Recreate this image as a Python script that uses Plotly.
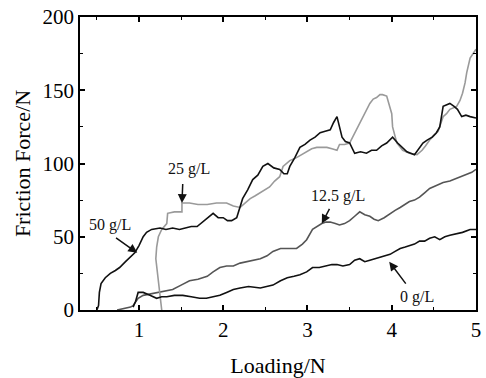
import plotly.graph_objects as go

# 50 g/L (black)
x50 = [0.50, 0.52, 0.53, 0.55, 0.60, 0.66, 0.72, 0.77, 0.84, 0.90, 0.95, 1.00, 1.05, 1.09, 1.15, 1.25, 1.32, 1.40, 1.48, 1.55, 1.62, 1.69, 1.75, 1.82, 1.88, 1.94, 2.00, 2.05, 2.10, 2.16, 2.23, 2.29, 2.35, 2.41, 2.47, 2.53, 2.60, 2.67, 2.72, 2.76, 2.79, 2.85, 2.91, 2.97, 3.03, 3.09, 3.15, 3.21, 3.27, 3.31, 3.35, 3.38, 3.41, 3.45, 3.50, 3.56, 3.63, 3.70, 3.76, 3.82, 3.88, 3.94, 4.01, 4.07, 4.12, 4.18, 4.27, 4.32, 4.37, 4.42, 4.48, 4.53, 4.57, 4.61, 4.65, 4.69, 4.74, 4.78, 4.83, 4.88, 4.93, 5.00]
y50 = [0, 3, 12, 18, 22, 25, 27, 29, 33, 36, 39, 44, 50, 53, 55, 56, 55, 56, 55, 56, 57, 57, 60, 63, 66, 63, 63, 61, 61, 63, 76, 82, 89, 92, 98, 100, 97, 96, 93, 93, 98, 104, 111, 113, 116, 118, 121, 122, 123, 128, 132, 125, 118, 115, 114, 107, 108, 107, 109, 109, 112, 114, 118, 114, 111, 108, 106, 110, 114, 116, 118, 121, 125, 139, 140, 141, 139, 137, 132, 133, 132, 131]

# 25 g/L (light grey)
x25 = [1.27, 1.25, 1.22, 1.20, 1.21, 1.23, 1.27, 1.33, 1.34, 1.42, 1.51, 1.51, 1.60, 1.70, 1.81, 1.92, 2.04, 2.12, 2.20, 2.26, 2.32, 2.38, 2.44, 2.50, 2.55, 2.61, 2.67, 2.71, 2.75, 2.79, 2.87, 2.93, 2.99, 3.05, 3.11, 3.17, 3.23, 3.29, 3.35, 3.38, 3.44, 3.50, 3.56, 3.61, 3.66, 3.70, 3.74, 3.78, 3.82, 3.86, 3.89, 3.94, 3.97, 4.00, 4.01, 4.06, 4.13, 4.21, 4.30, 4.36, 4.40, 4.45, 4.50, 4.55, 4.61, 4.65, 4.69, 4.73, 4.77, 4.81, 4.84, 4.87, 4.89, 4.93, 4.96, 5.00]
y25 = [0, 10, 23, 35, 43, 50, 55, 59, 66, 67, 67, 73, 73, 72, 72, 73, 73, 71, 70, 73, 76, 78, 80, 82, 84, 88, 91, 98, 100, 102, 104, 106, 108, 110, 111, 111, 111, 110, 109, 113, 113, 114, 121, 126, 132, 137, 141, 144, 145, 147, 147, 146, 140, 134, 125, 114, 109, 107, 106, 109, 112, 116, 119, 122, 132, 134, 137, 138, 139, 143, 148, 155, 162, 172, 175, 178]

# 12.5 g/L (dark grey)
x125 = [0.74, 0.82, 0.90, 0.93, 0.99, 1.05, 1.15, 1.25, 1.33, 1.40, 1.50, 1.60, 1.70, 1.81, 1.88, 1.96, 2.04, 2.12, 2.20, 2.28, 2.36, 2.44, 2.52, 2.59, 2.68, 2.76, 2.87, 2.94, 2.99, 3.06, 3.12, 3.17, 3.22, 3.27, 3.33, 3.38, 3.44, 3.50, 3.56, 3.62, 3.68, 3.74, 3.79, 3.84, 3.91, 3.98, 4.04, 4.10, 4.15, 4.21, 4.27, 4.33, 4.39, 4.45, 4.53, 4.61, 4.69, 4.77, 4.83, 4.89, 4.95, 5.00]
y125 = [0, 1, 2, 3, 8, 10, 11, 12, 13, 14, 17, 20, 21, 23, 26, 29, 30, 30, 32, 33, 34, 35, 37, 40, 42, 42, 42, 45, 48, 55, 57, 59, 60, 60, 59, 58, 59, 61, 64, 67, 65, 64, 62, 61, 63, 66, 68, 70, 72, 74, 75, 77, 80, 83, 85, 87, 88, 90, 91, 93, 94, 96]

# 0 g/L (black)
x0 = [0.93, 0.96, 0.99, 1.05, 1.13, 1.21, 1.27, 1.33, 1.42, 1.52, 1.62, 1.72, 1.80, 1.88, 1.96, 2.04, 2.12, 2.20, 2.30, 2.44, 2.52, 2.59, 2.68, 2.76, 2.84, 2.91, 2.99, 3.06, 3.14, 3.23, 3.29, 3.35, 3.42, 3.50, 3.56, 3.62, 3.68, 3.74, 3.80, 3.86, 3.92, 3.98, 4.04, 4.10, 4.16, 4.21, 4.27, 4.33, 4.39, 4.45, 4.51, 4.57, 4.63, 4.69, 4.76, 4.84, 4.93, 5.00]
y0 = [2, 6, 12, 12, 10, 8, 9, 9, 10, 10, 9, 8, 8, 9, 10, 12, 14, 15, 16, 15, 16, 17, 20, 22, 23, 24, 26, 29, 29, 30, 31, 31, 30, 31, 34, 35, 33, 34, 35, 36, 37, 38, 40, 42, 43, 44, 45, 47, 47, 49, 50, 48, 50, 51, 52, 53, 55, 55]

# annotations: label, text pos, arrow tail, arrow tip
ann_labels = ["50 g/L", "25 g/L", "12.5 g/L", "0 g/L"]
ann_text_xy = [(0.66, 58), (1.59, 96), (3.36, 78), (4.30, 9)]
ann_tail_xy = [(0.71, 50), (1.52, 87), (3.27, 70), (4.18, 17)]
ann_tip_xy = [(0.98, 39), (1.51, 73), (3.17, 59), (3.97, 33)]

fig = go.Figure()
line_w = 1.6
fig.add_trace(go.Scatter(x=x125, y=y125, mode="lines", line=dict(color="#555555", width=line_w)))
fig.add_trace(go.Scatter(x=x25, y=y25, mode="lines", line=dict(color="#9a9a9a", width=line_w)))
fig.add_trace(go.Scatter(x=x0, y=y0, mode="lines", line=dict(color="#111111", width=line_w)))
fig.add_trace(go.Scatter(x=x50, y=y50, mode="lines", line=dict(color="#111111", width=line_w)))

font_fam = "Liberation Serif"
for lab, (tx, ty), (ax, ay), (px, py) in zip(ann_labels, ann_text_xy, ann_tail_xy, ann_tip_xy):
    fig.add_annotation(x=tx, y=ty, text=lab, showarrow=False,
                       font=dict(family=font_fam, size=16, color="#111"))
    fig.add_annotation(x=px, y=py, ax=ax, ay=ay, axref="x", ayref="y", xref="x", yref="y",
                       text="", showarrow=True, arrowhead=2, arrowsize=1.2, arrowwidth=1.5,
                       arrowcolor="#111")

axis_common = dict(showline=True, linecolor="black", linewidth=1.8, mirror="ticks",
                   ticks="inside", ticklen=5, tickwidth=1.5, tickcolor="black",
                   showgrid=False, zeroline=False, automargin=False,
                   tickfont=dict(family=font_fam, size=21, color="black"),
                   title_font=dict(family=font_fam, size=22, color="black"))

fig.update_xaxes(range=[0.3, 5], tick0=0, dtick=1, tickvals=[1, 2, 3, 4, 5],
                 minor=dict(ticks="inside", ticklen=3, tickwidth=1.2, tickcolor="black", dtick=0.5, tick0=0),
                 title_text="Loading/N", title_standoff=18, **axis_common)
fig.update_yaxes(range=[0, 200], tick0=0, dtick=50,
                 minor=dict(ticks="inside", ticklen=3, tickwidth=1.2, tickcolor="black", dtick=25, tick0=0),
                 title_text="Friction Force/N", title_standoff=6, **axis_common)

fig.update_layout(width=486, height=378, margin=dict(l=80, r=10, t=17, b=68),
                  plot_bgcolor="white", paper_bgcolor="white", showlegend=False)

fig.write_html("out.html")
